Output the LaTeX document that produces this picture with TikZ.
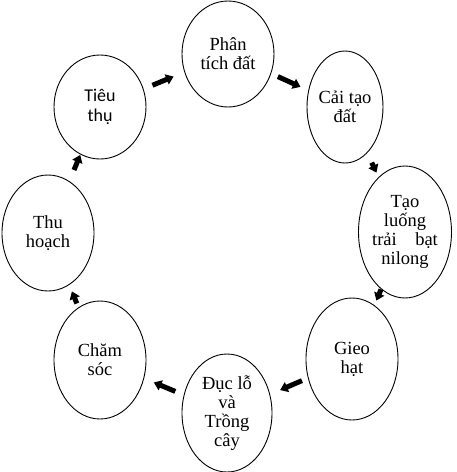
\documentclass[tikz,border=0pt]{standalone}
\usepackage{fontspec}
\setmainfont{Liberation Serif}
\newfontfamily\calfont{Carlito}
\usetikzlibrary{shapes.geometric,arrows.meta,calc}

\begin{document}
\begin{tikzpicture}[x=1pt,y=-1pt,
  stage/.style={draw,ellipse,line width=0.9pt,inner sep=0pt,align=center,
    font=\fontsize{18.5}{19}\selectfont},
  blk/.style={line width=5pt,-{Triangle[length=7.5pt,width=10.5pt]}}]
\useasboundingbox (0,0) rectangle (456,472);
%%%%%%%%%%%%%%%%%%%%%%%%%%%%%%%%
%% stages
%%%%%%%%%%%%%%%%%%%%%%%%%%%%%%%%
\node[stage,minimum width=92pt,minimum height=106pt] (phantich) at (228,54) {Phân\\tích đất};
\node[stage,minimum width=76pt,minimum height=112pt] (caitao)   at (345,107) {Cải tạo\\đất};
\node[stage,minimum width=92pt,minimum height=132pt] (taoluong) at (405,232) {Tạo\\luống\\trải\quad bạt\\nilong};
\node[stage,minimum width=92pt,minimum height=122pt] (gieohat)  at (352,359) {Gieo\\hạt};
\node[stage,minimum width=90pt,minimum height=118pt] (duclo)    at (227,413) {Đục lỗ\\và\\Trồng\\cây};
\node[stage,minimum width=92pt,minimum height=118pt] (chamsoc)  at (100,360) {Chăm\\sóc};
\node[stage,minimum width=92pt,minimum height=116pt] (thuhoach) at (48,233) {Thu\\hoạch};
\node[stage,minimum width=92pt,minimum height=104pt,
      font=\calfont\fontsize{18}{20}\selectfont] (tieuthu) at (100,107) {Tiêu\\thụ};
%
%%%%%%%%%%%%%%%%%%%%%%%%%%%%%%%%
%% arrows
%%%%%%%%%%%%%%%%%%%%%%%%%%%%%%%%
\draw[blk] ($(tieuthu)!.41!(phantich)$)  -- ($(tieuthu)!.575!(phantich)$);
\draw[blk] ($(phantich)!.426!(caitao)$)  -- ($(phantich)!.62!(caitao)$);
\draw[blk] ($(caitao)!.445!(taoluong)$)  -- ($(caitao)!.525!(taoluong)$);
\draw[blk] ($(taoluong)!.452!(gieohat)$) -- ($(taoluong)!.54!(gieohat)$);
\draw[blk] ($(gieohat)!.40!(duclo)$)     -- ($(gieohat)!.575!(duclo)$);
\draw[blk] ($(duclo)!.407!(chamsoc)$)    -- ($(duclo)!.576!(chamsoc)$);
\draw[blk] ($(chamsoc)!.445!(thuhoach)$) -- ($(chamsoc)!.54!(thuhoach)$);
\draw[blk] ($(thuhoach)!.50!(tieuthu)$)  -- ($(thuhoach)!.62!(tieuthu)$);
\end{tikzpicture}
\end{document}
